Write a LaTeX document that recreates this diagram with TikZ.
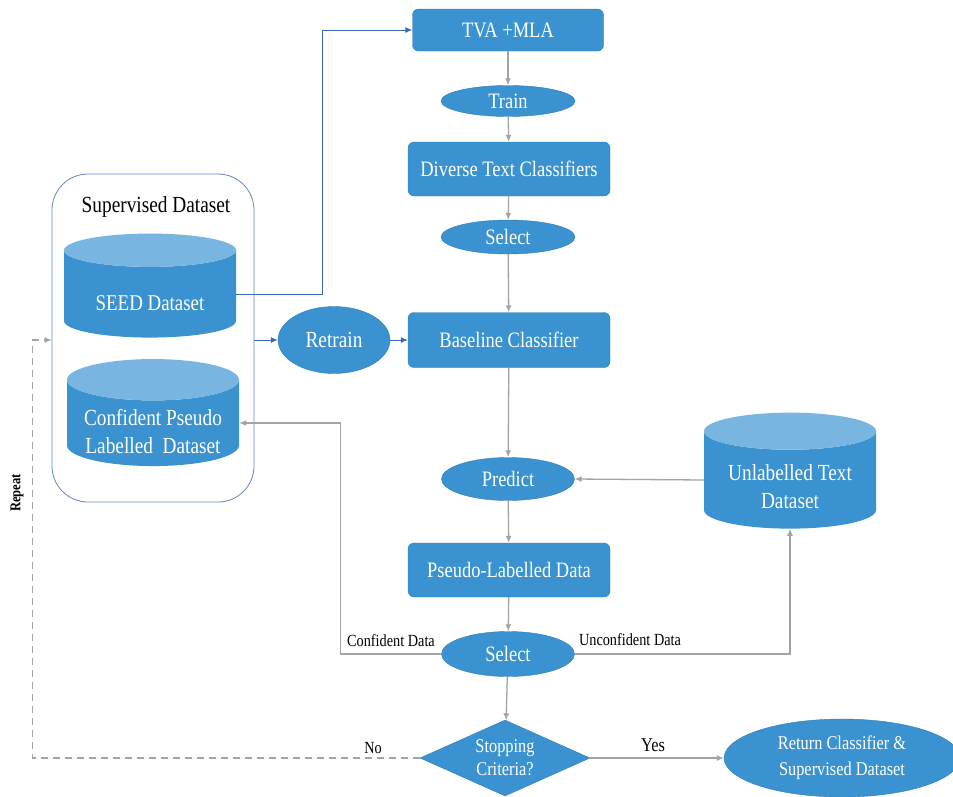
\documentclass[tikz,border=0pt]{standalone}
\usepackage{fontspec}
\setmainfont{Liberation Serif}[FakeStretch=0.84]
\usetikzlibrary{shapes.geometric,arrows.meta,positioning}

\definecolor{boxblue}{HTML}{3A92D0}
\definecolor{edgeblue}{HTML}{2F7DBA}
\definecolor{topblue}{HTML}{78B5E1}
\definecolor{linegray}{HTML}{A3A3A3}
\definecolor{linkblue}{HTML}{3B68B8}

\tikzset{
  procbox/.style={rectangle, rounded corners=6pt, draw=edgeblue, fill=boxblue, text=white,
    minimum width=202pt, minimum height=54pt, inner sep=0pt, font=\fontsize{22}{26}\selectfont},
  oval/.style={ellipse, draw=edgeblue, fill=boxblue, text=white,
    minimum width=134pt, minimum height=33pt, inner sep=0pt, font=\fontsize{22}{26}\selectfont},
  dbase/.style={cylinder, shape border rotate=90, aspect=0.3, draw=none,
    cylinder uses custom fill, cylinder body fill=boxblue, cylinder end fill=topblue,
    minimum width=172pt, minimum height=104pt, inner sep=0pt, align=center,
    font=\fontsize{23}{28}\selectfont},
  dbtext/.style={text=white, align=center, inner sep=0pt, font=\fontsize{23}{28}\selectfont},
  flow/.style={draw=linegray, line width=1.3pt, -{Latex[length=7pt,width=6pt]}},
  link/.style={draw=linkblue, line width=1pt, -{Latex[length=7pt,width=6pt]}},
  loopback/.style={draw=linegray, line width=1.3pt, dash pattern=on 7pt off 5pt, -{Latex[length=7pt,width=6pt]}},
  tag/.style={text=black, font=\fontsize{17}{20}\selectfont}
}

\begin{document}
\begin{tikzpicture}[x=1pt, y=-1pt]
  \useasboundingbox (0,0) rectangle (953,796);

  % supervised dataset container
  \node[rectangle, rounded corners=36pt, draw=linkblue!80, line width=0.8pt,
    minimum width=202pt, minimum height=328pt] (sup) at (153,338) {};
  \node[tag, font=\fontsize{23}{27}\selectfont] (suplabel) at (156,207) {Supervised Dataset};
  \node[dbase] (seed) at (150,294) {\phantom{SEED Dataset}};
  \node[dbtext, font=\fontsize{22.5}{27}\selectfont] (seedtext) at ([yshift=-9pt]seed.center) {SEED Dataset};
  \node[dbase, minimum height=107pt] (conf) at (153,423) {\phantom{Confident Pseudo}\\\phantom{Dataset}};
  \node[dbtext] (conftext) at ([yshift=-9pt]conf.center) {Confident Pseudo\\Labelled\ \ Dataset};

  % main column
  \node[procbox, minimum width=191pt, minimum height=42pt] (tva) at (508,30) {TVA +MLA};
  \node[oval, minimum height=31pt] (train) at (508,101) {Train};
  \node[procbox] (diverse) at (509,169) {Diverse Text Classifiers};
  \node[oval, minimum height=34pt] (select) at (508,237) {Select};
  \node[procbox, minimum height=55pt] (baseline) at (509,340) {Baseline Classifier};
  \node[oval, minimum width=112pt, minimum height=67pt, font=\fontsize{23}{27}\selectfont] (retrain) at (334,340) {Retrain};
  \node[oval, minimum width=133pt, minimum height=43pt] (predict) at (508,479) {Predict};
  \node[dbase, minimum height=116pt] (unl) at (790,480) {\phantom{Unlabelled Text}\\\phantom{Dataset}};
  \node[dbtext] (unltext) at ([yshift=-7pt]unl.center) {Unlabelled Text\\Dataset};
  \node[procbox] (pseudo) at (509,570) {Pseudo-Labelled Data};
  \node[oval, minimum width=133pt, minimum height=45pt] (select2) at (508,654) {Select};
  \node[diamond, draw=edgeblue, fill=boxblue, text=white, inner sep=0pt, aspect=2.3,
    minimum width=170pt, minimum height=76pt, align=center,
    font=\fontsize{19.5}{23}\selectfont] (stop) at (505,758) {Stopping\\Criteria?};
  \node[oval, minimum width=236pt, minimum height=78pt, align=center,
    font=\fontsize{19.5}{26}\selectfont] (result) at (842,758) {Return Classifier \&\\Supervised Dataset};

  % connectors
  \draw[link] (seed.east) -- ++(86,0) |- (tva.west);
  \draw[link] (retrain.west -| sup.east) -- (retrain.west);
  \draw[link] (retrain) -- (baseline);
  \draw[flow] (tva) -- (train);
  \draw[flow] (train) -- (diverse);
  \draw[flow] (diverse) -- (select);
  \draw[flow] (select) -- (baseline);
  \draw[flow] (baseline) -- (predict);
  \draw[flow] (unl.west) -- (predict.east);
  \draw[flow] (predict) -- (pseudo);
  \draw[flow] (pseudo) -- (select2);
  \draw[flow] (select2) -- (stop);
  \draw[flow] (select2.west) -- ++(-101,0) |- (conf.east);
  \draw[flow] (select2.east) -| (unl.south);
  \draw[flow] (stop.east) -- (result.west);
  \draw[loopback] (stop.west) -- ++(-387,0) |- (retrain.west -| sup.west);

  % labels
  \node[tag] (conftag) at (391,641) {Confident Data};
  \node[tag] (unconftag) at (630,640) {Unconfident Data};
  \node[tag] (notag) at (373,748) {No};
  \node[tag, font=\fontsize{19.5}{23}\selectfont] (yestag) at (653,745) {Yes};
  \node[tag, font=\fontsize{15}{18}\bfseries\selectfont, rotate=90] (repeat) at (17,493) {Repeat};
\end{tikzpicture}
\end{document}
